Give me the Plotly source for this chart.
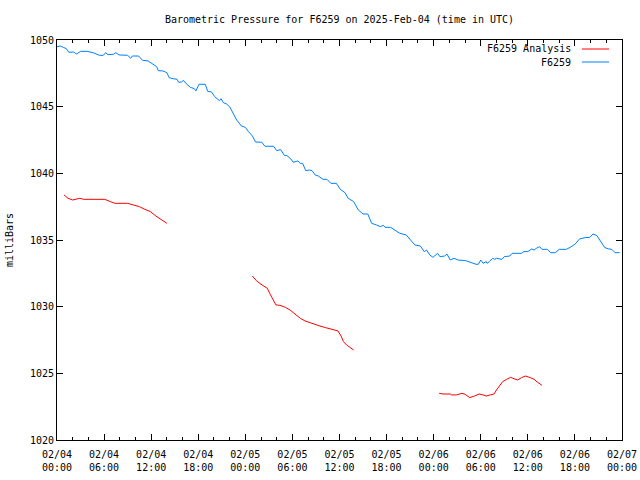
import pandas as pd
import plotly.graph_objects as go

title = "Barometric Pressure for F6259 on 2025-Feb-04 (time in UTC)"
start = pd.Timestamp("2025-02-04 00:00")

# observed station pressure (hours since 2025-02-04 00:00 UTC, mb)
obs_hours = [0.0, 0.4, 0.8, 1.2, 1.5, 2.1, 2.5, 3.0, 3.8, 4.6, 5.4, 5.9, 6.2, 6.5, 7.2, 7.5, 7.9,
             9.0, 9.4, 9.6, 10.4, 10.9, 11.6, 12.3, 12.7, 12.9, 13.5, 14.0, 14.3, 14.8, 15.3, 15.5,
             15.9, 16.1, 16.5, 17.0, 17.5, 17.7, 18.1, 18.9, 19.2, 19.7, 20.1, 20.7, 20.9, 21.2,
             21.6, 22.0, 22.5, 22.9, 23.5, 24.0, 24.4, 24.9, 25.3, 26.1, 26.5, 27.6, 28.0, 28.5,
             29.0, 29.3, 29.8, 30.1, 30.7, 31.0, 31.3, 31.7, 32.2, 32.5, 32.9, 33.3, 33.9, 34.4,
             34.9, 35.6, 36.1, 36.7, 37.1, 37.8, 38.4, 39.0, 39.6, 40.1, 40.7, 41.2, 41.6, 41.8,
             42.5, 42.9, 43.7, 44.5, 45.0, 45.6, 46.3, 46.8, 47.1, 47.5, 47.9, 48.5, 48.8, 49.4,
             49.7, 50.1, 50.6, 51.1, 52.1, 52.8, 53.4, 53.7, 54.0, 54.3, 54.7, 54.8, 55.1, 55.5,
             55.8, 56.0, 56.7, 57.0, 57.7, 58.0, 59.2, 59.5, 60.0, 60.5, 60.8, 61.1, 61.5, 61.8,
             62.5, 62.9, 63.5, 64.0, 64.9, 65.4, 66.0, 66.6, 67.3, 67.9, 68.3, 68.8, 69.2, 69.8,
             70.3, 70.7, 71.1, 71.7]
obs_mb = [1049.5, 1049.55, 1049.45, 1049.35, 1049.08, 1049.1, 1048.95, 1049.15, 1049.15, 1049.05,
          1048.85, 1048.85, 1049.05, 1048.9, 1048.93, 1049.05, 1048.88, 1048.85, 1048.63, 1048.8,
          1048.8, 1048.48, 1048.43, 1048.15, 1048.0, 1047.7, 1047.68, 1047.55, 1047.17, 1047.1,
          1047.05, 1046.83, 1046.85, 1046.98, 1046.7, 1046.45, 1046.35, 1046.18, 1046.68, 1046.68,
          1046.15, 1046.1, 1045.75, 1045.45, 1045.6, 1045.3, 1045.2, 1045.0, 1044.5, 1044.0,
          1043.55, 1043.45, 1043.13, 1042.8, 1042.35, 1042.33, 1042.03, 1042.03, 1041.7, 1041.78,
          1041.33, 1041.33, 1041.08, 1040.83, 1040.93, 1040.75, 1040.75, 1040.2, 1040.25, 1040.2,
          1039.88, 1039.8, 1039.55, 1039.55, 1039.25, 1039.25, 1038.8, 1038.55, 1038.13, 1037.88,
          1037.25, 1036.95, 1036.95, 1036.25, 1036.13, 1036.0, 1036.1, 1035.95, 1035.95, 1035.8,
          1035.5, 1035.38, 1035.0, 1034.63, 1034.55, 1034.13, 1034.25, 1033.88, 1033.7, 1034.0,
          1033.75, 1033.8, 1033.95, 1033.5, 1033.63, 1033.5, 1033.45, 1033.3, 1033.18, 1033.18,
          1033.5, 1033.25, 1033.38, 1033.25, 1033.38, 1033.63, 1033.55, 1033.63, 1033.55, 1033.75,
          1033.8, 1034.0, 1034.0, 1034.13, 1034.13, 1034.33, 1034.25, 1034.38, 1034.5, 1034.3,
          1034.3, 1034.05, 1034.05, 1034.3, 1034.3, 1034.45, 1034.68, 1035.08, 1035.18, 1035.2,
          1035.45, 1035.33, 1035.0, 1034.43, 1034.33, 1034.3, 1034.05, 1034.05]

# analysis pressure, three separate runs (None = gap)
ana_hours = [0.9, 1.4, 2.0, 2.4, 2.9, 3.4, 6.1, 6.8, 7.4, 9.0, 9.7, 10.5, 11.2, 11.9, 12.6, 13.3, 14.0,
             None,
             24.9, 25.4, 26.0, 26.4, 26.8, 27.1, 27.6, 27.9, 28.4, 29.1, 29.7, 30.3, 31.0, 31.6, 32.2,
             32.9, 33.5, 34.2, 34.8, 35.4, 35.8, 36.2, 36.5, 36.9, 37.8,
             None,
             48.7, 49.2, 50.1, 50.3, 50.9, 51.6, 52.0, 52.6, 53.2, 53.8, 54.3, 54.7, 55.2, 55.7, 56.0,
             56.4, 56.8, 57.3, 57.8, 58.1, 58.7, 59.2, 59.7, 60.3, 60.8, 61.2, 61.8]
ana_mb = [1038.38, 1038.13, 1038.0, 1038.08, 1038.13, 1038.05, 1038.05, 1037.88, 1037.75, 1037.75,
          1037.63, 1037.5, 1037.3, 1037.13, 1036.8, 1036.5, 1036.25,
          None,
          1032.3, 1031.95, 1031.68, 1031.55, 1031.38, 1031.0, 1030.45, 1030.13, 1030.1, 1029.95,
          1029.75, 1029.45, 1029.13, 1028.93, 1028.8, 1028.68, 1028.55, 1028.43, 1028.33, 1028.25,
          1028.18, 1027.8, 1027.38, 1027.13, 1026.75,
          None,
          1023.5, 1023.45, 1023.45, 1023.38, 1023.38, 1023.5, 1023.43, 1023.18, 1023.3, 1023.45,
          1023.38, 1023.3, 1023.38, 1023.45, 1023.75, 1024.05, 1024.38, 1024.55, 1024.7, 1024.63,
          1024.5, 1024.68, 1024.8, 1024.68, 1024.55, 1024.35, 1024.1]

tick_hours = [0, 6, 12, 18, 24, 30, 36, 42, 48, 54, 60, 66, 72]
y_ticks = [1020, 1025, 1030, 1035, 1040, 1045, 1050]


def to_time(hours):
    return [None if h is None else start + pd.Timedelta(hours=h) for h in hours]


obs_t = to_time(obs_hours)
ana_t = to_time(ana_hours)
tick_t = to_time(tick_hours)
tick_text = [t.strftime("%m/%d<br>%H:%M") for t in tick_t]

RED = "#ff0000"
BLUE = "#0080ff"
FONT = "DejaVu Sans Mono"

fig = go.Figure()
fig.add_trace(go.Scatter(x=ana_t, y=ana_mb, mode="lines", name="F6259 Analysis",
                         line=dict(color=RED, width=1), connectgaps=False))
fig.add_trace(go.Scatter(x=obs_t, y=obs_mb, mode="lines", name="F6259",
                         line=dict(color=BLUE, width=1)))

fig.update_layout(
    width=640, height=480,
    margin=dict(l=57, r=18, t=40, b=40, autoexpand=False),
    paper_bgcolor="white", plot_bgcolor="white",
    font=dict(family=FONT, size=10, color="black"),
    title=dict(text=title, x=0.5, xref="paper", y=0.96, yref="container",
               xanchor="center", yanchor="middle", font=dict(family=FONT, size=10)),
    showlegend=False,
)

fig.update_xaxes(
    range=[tick_t[0], tick_t[-1]],
    tickvals=tick_t, ticktext=tick_text,
    ticks="inside", ticklen=6, tickcolor="black",
    showline=True, linecolor="black", linewidth=1, mirror="allticks",
    showgrid=False, zeroline=False,
    minor=dict(ticks="inside", ticklen=3, dtick=2 * 3600000, tickcolor="black", showgrid=False),
    tickfont=dict(family=FONT, size=10),
    ticklabelstandoff=5,
)
fig.update_yaxes(
    range=[1020, 1050], tickvals=y_ticks,
    ticks="inside", ticklen=6, tickcolor="black",
    showline=True, linecolor="black", linewidth=1, mirror="allticks",
    showgrid=False, zeroline=False,
    tickfont=dict(family=FONT, size=10),
    title=dict(text="milliBars", font=dict(family=FONT, size=10), standoff=14),
)

# legend drawn gnuplot-style (text right-aligned, sample line on the right)
legend_items = [("F6259 Analysis", RED, 0.9775), ("F6259", BLUE, 0.945)]
for label, color, yp in legend_items:
    fig.add_annotation(text=label, xref="paper", yref="paper", x=0.914, y=yp,
                       xanchor="right", yanchor="middle", showarrow=False,
                       font=dict(family=FONT, size=10, color="black"))
    fig.add_shape(type="line", xref="paper", yref="paper", x0=0.929, x1=0.977, y0=yp, y1=yp,
                  line=dict(color=color, width=1))

fig.write_html("out.html", config={"displayModeBar": False},
               post_script="document.body.style.margin='0';")
